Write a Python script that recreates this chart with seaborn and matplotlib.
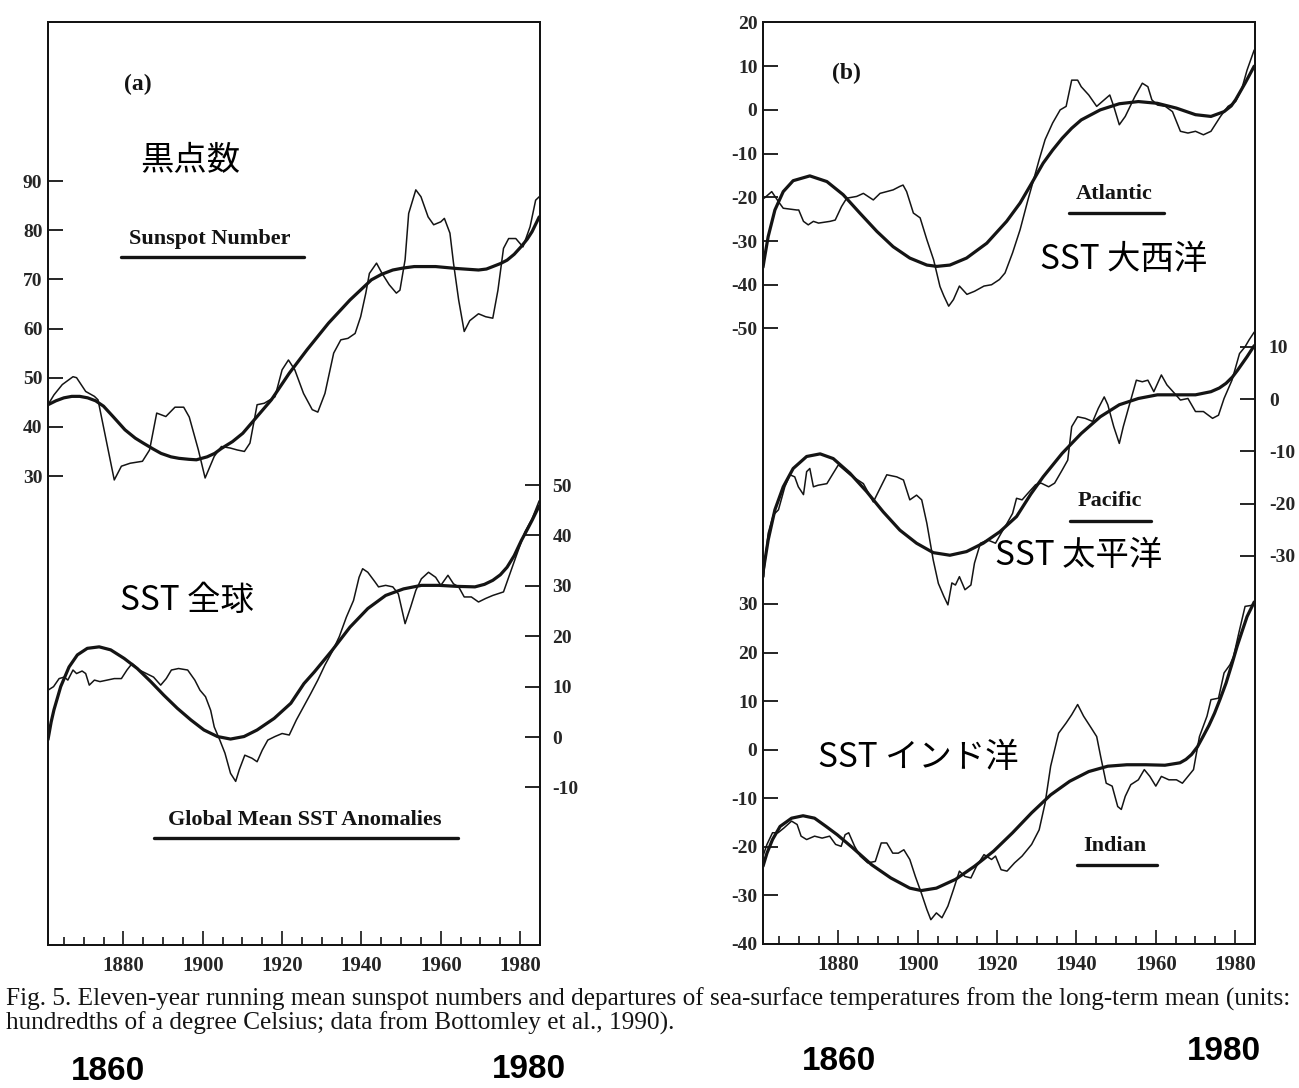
import numpy as np
import pandas as pd
import matplotlib
matplotlib.use("Agg")
import matplotlib.pyplot as plt
from matplotlib.lines import Line2D
from matplotlib.ticker import FixedLocator, MultipleLocator
import seaborn as sns

# ---------------- data ----------------
sun_raw_year = [1861.0, 1862.5, 1864.6, 1867.3, 1868.2, 1870.5, 1872.7, 1873.6, 1877.7, 1879.5,
                1881.7, 1884.8, 1886.6, 1888.4, 1890.7, 1893.0, 1895.2, 1896.6, 1898.9, 1900.6,
                1902.9, 1904.7, 1906.9, 1908.7, 1910.5, 1911.9, 1913.7, 1915.5, 1918.2, 1920.0,
                1921.6, 1923.2, 1925.4, 1927.6, 1929.0, 1930.8, 1933.0, 1934.8, 1936.6, 1938.4,
                1939.8, 1941.1, 1942.0, 1943.8, 1945.2, 1947.0, 1948.8, 1949.7, 1951.0, 1951.9,
                1953.7, 1955.0, 1956.8, 1958.2, 1960.0, 1960.9, 1962.3, 1963.2, 1964.5, 1965.9,
                1967.3, 1969.5, 1971.3, 1973.1, 1974.4, 1975.8, 1977.1, 1978.9, 1980.7, 1982.5,
                1983.9, 1984.8]
sun_raw_val = [44.5, 46.5, 48.6, 50.2, 50.0, 47.2, 46.2, 45.5, 29.2, 32.0,
               32.6, 33.0, 35.3, 42.8, 42.1, 44.0, 44.0, 42.0, 35.3, 29.6,
               34.0, 36.0, 35.7, 35.3, 35.0, 36.7, 44.5, 44.8, 46.1, 51.6,
               53.6, 51.6, 46.8, 43.5, 43.0, 46.8, 55.0, 57.7, 58.0, 59.0,
               62.4, 67.2, 71.2, 73.3, 71.2, 68.9, 67.2, 67.8, 74.0, 83.4,
               88.2, 86.8, 82.7, 81.1, 81.7, 82.4, 79.4, 73.3, 65.8, 59.4,
               61.6, 63.0, 62.4, 62.1, 67.8, 76.3, 78.3, 78.3, 76.6, 80.7,
               86.1, 86.8]
sun_fit_year = [1861.0, 1863.0, 1865.0, 1867.0, 1869.0, 1871.0, 1873.0, 1875.0, 1877.5, 1880.4,
                1883.0, 1885.0, 1887.5, 1889.5, 1892.0, 1894.0, 1896.5, 1898.4, 1901.1, 1903.0,
                1904.7, 1907.5, 1910.1, 1913.7, 1917.3, 1921.8, 1926.3, 1931.7, 1937.1, 1940.0,
                1942.5, 1945.0, 1947.9, 1950.5, 1953.3, 1958.7, 1964.1, 1969.5, 1971.5, 1973.1,
                1975.0, 1976.7, 1978.5, 1980.3, 1981.8, 1983.0, 1984.8]
sun_fit_val = [44.5, 45.3, 45.9, 46.2, 46.2, 45.9, 45.3, 44.2, 42.0, 39.4,
               37.7, 36.7, 35.5, 34.6, 33.9, 33.6, 33.4, 33.3, 33.9, 34.6,
               35.6, 37.0, 38.7, 42.1, 45.5, 50.9, 55.7, 61.1, 65.8, 68.0,
               69.9, 71.0, 71.9, 72.3, 72.6, 72.6, 72.2, 71.9, 72.1, 72.6,
               73.2, 73.9, 75.1, 76.7, 78.2, 79.7, 82.7]

glob_raw_year = [1861.0, 1862.4, 1863.8, 1865.1, 1866.0, 1867.3, 1868.2, 1869.6, 1870.5, 1871.4,
                 1872.7, 1874.1, 1875.9, 1877.7, 1879.5, 1880.9, 1882.2, 1884.0, 1885.8, 1887.6,
                 1889.4, 1890.8, 1892.1, 1893.9, 1896.2, 1898.0, 1899.3, 1900.7, 1902.0, 1902.9,
                 1904.3, 1905.6, 1907.0, 1908.3, 1909.2, 1910.6, 1912.4, 1913.7, 1915.0, 1916.4,
                 1918.2, 1920.0, 1921.8, 1923.6, 1925.4, 1927.2, 1929.0, 1930.8, 1932.6, 1934.4,
                 1936.2, 1938.0, 1939.4, 1940.3, 1941.6, 1943.4, 1944.3, 1946.1, 1947.9, 1949.3,
                 1951.0, 1952.4, 1953.7, 1955.1, 1956.9, 1958.7, 1960.0, 1961.8, 1963.2, 1964.5,
                 1965.9, 1967.7, 1969.5, 1971.3, 1973.1, 1975.8, 1977.1, 1978.9, 1981.2, 1983.0,
                 1984.8]
glob_raw_val = [9.3, 10.0, 11.6, 11.9, 11.3, 13.3, 12.6, 13.1, 12.6, 10.3,
                11.3, 11.0, 11.3, 11.6, 11.6, 13.3, 14.6, 13.3, 12.6, 11.9,
                10.3, 11.6, 13.3, 13.6, 13.3, 11.3, 9.3, 8.0, 5.3, 2.0,
                -0.6, -3.2, -7.2, -8.8, -6.5, -3.6, -4.2, -4.9, -2.6, -0.6,
                0.1, 0.7, 0.4, 3.4, 6.0, 8.6, 11.3, 14.3, 16.9, 19.9,
                23.8, 27.1, 31.7, 33.4, 32.7, 30.8, 29.8, 30.1, 29.8, 28.4,
                22.5, 25.8, 29.1, 31.4, 32.7, 31.7, 30.1, 32.1, 30.4, 29.8,
                27.8, 27.8, 26.8, 27.5, 28.1, 28.8, 31.7, 35.7, 40.7, 43.3,
                46.9]
glob_fit_year = [1861.0, 1861.8, 1862.5, 1864.2, 1866.3, 1868.4, 1870.9, 1873.9, 1876.8, 1880.2,
                 1883.5, 1886.9, 1890.2, 1893.6, 1897.0, 1900.3, 1903.7, 1907.0, 1910.4, 1913.7,
                 1918.0, 1922.2, 1925.5, 1928.1, 1932.6, 1937.1, 1941.6, 1946.1, 1950.6, 1955.1,
                 1959.6, 1964.1, 1968.6, 1971.0, 1973.1, 1975.0, 1976.7, 1978.5, 1980.3, 1981.8,
                 1983.0, 1984.8]
glob_fit_val = [-0.5, 3.0, 5.4, 10.0, 13.9, 16.3, 17.6, 17.9, 17.3, 15.6,
                13.6, 11.0, 8.3, 5.7, 3.4, 1.4, 0.1, -0.4, 0.1, 1.4,
                3.7, 6.7, 10.6, 12.9, 17.2, 21.8, 25.5, 28.1, 29.4, 30.1,
                30.1, 29.9, 29.8, 30.3, 31.1, 32.2, 33.7, 36.0, 39.0, 41.2,
                43.0, 45.9]

atl_raw_year = [1861.3, 1863.2, 1864.9, 1866.1, 1869.5, 1870.0, 1871.2, 1872.4, 1873.7, 1875.0,
                1877.9, 1879.2, 1880.8, 1882.1, 1884.6, 1886.3, 1888.8, 1890.5, 1893.8, 1895.5,
                1896.3, 1897.2, 1898.9, 1900.6, 1902.3, 1904.0, 1905.6, 1906.6, 1907.8, 1909.0,
                1910.5, 1912.4, 1914.3, 1916.7, 1918.6, 1920.6, 1922.0, 1923.9, 1925.8, 1927.8,
                1929.2, 1930.6, 1932.1, 1934.0, 1935.9, 1937.4, 1938.8, 1940.3, 1941.2, 1943.1,
                1945.1, 1947.0, 1948.4, 1949.4, 1950.8, 1952.3, 1954.7, 1956.6, 1958.0, 1959.0,
                1960.4, 1962.4, 1964.2, 1966.2, 1968.1, 1970.0, 1972.0, 1973.9, 1976.3, 1978.2,
                1980.1, 1981.6, 1983.0, 1984.8]
atl_raw_val = [-20.2, -18.7, -21.0, -22.5, -22.9, -22.9, -25.5, -26.3, -25.5, -25.9,
               -25.5, -25.2, -22.1, -20.2, -19.8, -19.1, -20.6, -19.1, -18.3, -17.5,
               -17.2, -18.7, -23.6, -24.7, -29.7, -34.3, -40.4, -42.6, -44.9, -43.4,
               -40.3, -42.2, -41.5, -40.3, -40.0, -38.8, -37.3, -32.7, -27.4, -20.5,
               -16.0, -11.4, -6.8, -3.0, 0.0, 0.8, 6.8, 6.8, 5.3, 3.4,
               0.8, 2.3, 3.4, 0.8, -3.4, -1.5, 3.0, 6.1, 5.3, 2.3,
               1.1, 0.8, -0.4, -4.9, -5.3, -4.9, -5.7, -4.9, -1.5, 0.8,
               1.9, 4.6, 9.1, 13.7]
atl_fit_year = [1861.0, 1861.3, 1862.3, 1864.0, 1866.1, 1868.6, 1872.8, 1877.1, 1881.2, 1885.4,
                1889.7, 1893.8, 1898.0, 1902.3, 1904.8, 1908.1, 1912.3, 1917.4, 1922.4, 1925.8,
                1928.7, 1931.6, 1934.0, 1936.4, 1938.8, 1941.2, 1946.0, 1950.8, 1955.6, 1960.4,
                1965.2, 1970.0, 1973.9, 1977.2, 1979.0, 1980.1, 1982.5, 1984.8]
atl_fit_val = [-36.0, -34.3, -29.0, -22.9, -18.7, -16.2, -15.1, -16.4, -19.4, -23.6,
               -27.8, -31.3, -33.9, -35.5, -35.8, -35.5, -33.9, -30.5, -25.5, -21.3,
               -16.8, -12.2, -9.2, -6.5, -4.2, -2.3, 0.0, 1.4, 1.9, 1.5,
               0.4, -1.1, -1.5, -0.4, 0.9, 2.3, 6.1, 10.0]

pac_raw_year = [1861.1, 1862.3, 1863.6, 1864.9, 1866.5, 1867.8, 1869.0, 1869.9, 1871.2, 1872.0,
                1872.8, 1873.7, 1874.9, 1877.1, 1878.7, 1880.0, 1882.9, 1886.3, 1888.8, 1890.1,
                1892.2, 1894.7, 1896.4, 1898.0, 1899.7, 1901.0, 1902.3, 1903.9, 1905.2, 1906.6,
                1907.6, 1908.6, 1909.5, 1910.5, 1911.9, 1913.4, 1914.3, 1915.8, 1917.7, 1919.6,
                1921.0, 1922.5, 1923.9, 1924.9, 1926.3, 1927.8, 1929.7, 1931.1, 1933.0, 1934.5,
                1936.4, 1937.8, 1938.8, 1940.3, 1942.2, 1944.1, 1945.5, 1947.0, 1947.9, 1949.4,
                1950.8, 1951.8, 1953.2, 1955.1, 1956.6, 1958.0, 1959.5, 1961.4, 1962.8, 1964.7,
                1966.2, 1968.1, 1970.0, 1972.0, 1974.3, 1975.8, 1977.2, 1979.2, 1981.1, 1982.5,
                1983.5, 1984.8]
pac_raw_val = [-34.0, -25.7, -22.2, -21.2, -16.8, -14.5, -14.9, -16.8, -18.3, -13.9,
               -13.3, -16.8, -16.5, -16.2, -14.2, -12.6, -14.5, -16.2, -19.7, -17.7,
               -14.5, -14.9, -15.5, -19.3, -18.4, -19.3, -23.8, -30.8, -35.3, -37.8,
               -39.4, -35.2, -35.6, -34.0, -36.5, -35.6, -31.4, -27.6, -27.0, -27.6,
               -25.7, -23.8, -21.9, -19.0, -19.3, -18.0, -16.4, -16.1, -16.8, -16.1,
               -13.6, -11.7, -5.3, -3.4, -3.7, -4.3, -1.8, 0.4, -1.1, -5.3,
               -8.5, -5.3, -1.5, 3.6, 3.3, 3.6, 1.4, 4.6, 2.7, 1.1,
               -0.2, 0.1, -2.4, -2.4, -3.7, -3.1, 0.1, 3.6, 8.7, 10.0,
               11.3, 12.8]
pac_fit_year = [1861.0, 1861.1, 1862.3, 1864.0, 1866.1, 1868.6, 1872.0, 1875.4, 1878.7, 1882.9,
                1887.1, 1891.3, 1895.5, 1899.7, 1903.9, 1908.1, 1912.3, 1916.5, 1920.7, 1924.9,
                1928.5, 1931.6, 1936.4, 1941.2, 1946.0, 1950.8, 1955.6, 1960.4, 1965.2, 1970.0,
                1973.9, 1976.0, 1977.7, 1979.3, 1980.6, 1983.0, 1984.8]
pac_fit_val = [-34.0, -32.7, -27.0, -21.2, -16.8, -13.3, -11.0, -10.5, -11.4, -14.2,
               -17.7, -21.6, -25.1, -27.6, -29.4, -29.9, -29.2, -27.6, -25.4, -22.5,
               -18.2, -14.9, -10.4, -6.6, -3.4, -1.1, 0.1, 0.8, 0.8, 0.8,
               1.4, 2.1, 3.0, 4.2, 5.5, 8.1, 10.2]

ind_raw_year = [1861.0, 1862.0, 1863.4, 1864.8, 1866.3, 1868.2, 1869.6, 1870.6, 1872.0, 1874.0,
                1875.9, 1877.8, 1879.3, 1880.7, 1881.7, 1882.6, 1884.1, 1885.5, 1887.4, 1889.3,
                1890.8, 1892.2, 1893.7, 1895.1, 1896.5, 1898.0, 1899.4, 1900.9, 1902.3, 1903.3,
                1904.7, 1906.1, 1907.6, 1909.0, 1910.5, 1911.9, 1913.4, 1914.8, 1916.7, 1918.6,
                1919.6, 1921.0, 1922.5, 1924.4, 1926.3, 1928.7, 1930.6, 1932.1, 1933.5, 1935.5,
                1937.4, 1938.8, 1940.3, 1941.8, 1943.7, 1945.1, 1946.1, 1947.5, 1949.0, 1950.4,
                1951.3, 1952.3, 1953.7, 1955.6, 1957.1, 1958.5, 1960.0, 1961.4, 1963.3, 1965.2,
                1966.7, 1968.1, 1969.5, 1971.0, 1972.9, 1973.9, 1975.8, 1977.2, 1978.7, 1979.6,
                1981.0, 1982.5, 1984.8]
ind_raw_val = [-21.9, -19.5, -17.1, -17.1, -16.1, -14.7, -15.4, -17.8, -18.5, -17.8,
               -18.2, -17.8, -19.5, -19.9, -17.5, -17.1, -19.9, -21.9, -23.3, -23.0,
               -19.2, -19.2, -21.3, -21.3, -20.6, -22.6, -26.1, -29.5, -32.9, -35.0,
               -33.6, -34.6, -32.2, -28.8, -25.0, -26.1, -26.4, -24.0, -21.6, -22.6,
               -21.9, -24.7, -25.0, -23.3, -21.9, -19.5, -16.5, -11.0, -3.4, 3.4,
               5.5, 7.2, 9.3, 6.9, 4.5, 2.7, -1.4, -6.9, -7.5, -11.7,
               -12.3, -9.6, -7.2, -6.2, -4.1, -5.5, -7.5, -5.5, -6.2, -6.2,
               -6.9, -5.5, -4.1, 2.7, 6.9, 10.3, 10.6, 15.8, 17.5, 19.2,
               24.3, 29.5, 29.8]
ind_fit_year = [1861.0, 1862.0, 1863.4, 1865.3, 1868.2, 1871.1, 1874.0, 1876.9, 1879.7, 1883.6,
                1888.4, 1893.2, 1898.0, 1900.9, 1904.7, 1909.5, 1914.3, 1919.1, 1923.9, 1928.7,
                1933.5, 1938.3, 1943.1, 1947.9, 1952.7, 1957.5, 1962.3, 1966.1, 1967.6, 1969.0,
                1970.5, 1971.9, 1973.4, 1974.8, 1976.2, 1977.7, 1979.1, 1980.5, 1981.8, 1983.0,
                1984.8]
ind_fit_val = [-24.0, -21.3, -18.5, -15.8, -14.1, -13.6, -14.1, -15.8, -17.5, -20.2,
               -23.7, -26.4, -28.5, -29.0, -28.5, -26.7, -24.0, -20.9, -17.1, -13.0,
               -9.3, -6.5, -4.5, -3.4, -3.1, -3.1, -3.2, -2.7, -2.0, -1.0,
               0.6, 2.7, 5.0, 7.5, 10.4, 13.7, 17.4, 21.3, 24.5, 27.4,
               30.4]

x_major = [1880, 1900, 1920, 1940, 1960, 1980]
sun_ticks = [30, 40, 50, 60, 70, 80, 90]
glob_ticks = [-10, 0, 10, 20, 30, 40, 50]
atl_ticks = [-50, -40, -30, -20, -10, 0, 10, 20]
pac_ticks = [-30, -20, -10, 0, 10]
ind_ticks = [-40, -30, -20, -10, 0, 10, 20, 30]

caption1 = ("Fig. 5. Eleven-year running mean sunspot numbers and departures of sea-surface "
            "temperatures from the long-term mean (units:")
caption2 = "hundredths of a degree Celsius; data from Bottomley et al., 1990)."

# ---------------- style ----------------
sns.set_style("ticks")
plt.rcParams["axes.unicode_minus"] = False
plt.rcParams["font.family"] = ["Liberation Serif", "DejaVu Serif"]

W, H = 1299, 1088
fig = plt.figure(figsize=(W / 100, H / 100), dpi=100)
fig.patch.set_facecolor("white")

INK = "#141414"
RAW_LW = 1.1
FIT_LW = 2.3
TICKFONT = dict(family="Liberation Serif", weight="bold", size=14)


def box(l, t, r, b):
    return [l / W, 1 - b / H, (r - l) / W, (b - t) / H]


def fxy(x, y):
    return x / W, 1 - y / H


def draw(ax, yrs, vals, lw):
    df = pd.DataFrame({"year": yrs, "val": vals})
    sns.lineplot(data=df, x="year", y="val", ax=ax, color=INK, linewidth=lw,
                 estimator=None, sort=False, legend=False)
    for ln in ax.lines:
        ln.set_solid_joinstyle("round")
        ln.set_solid_capstyle("round")
    ax.set_xlabel("")
    ax.set_ylabel("")


def style_xaxis(ax):
    ax.set_xlim(1861, 1985)
    ax.xaxis.set_major_locator(FixedLocator(x_major))
    ax.xaxis.set_minor_locator(MultipleLocator(5))
    ax.tick_params(axis="x", which="major", direction="in", length=10, width=1.2,
                   pad=8, color=INK)
    ax.tick_params(axis="x", which="minor", direction="in", length=6, width=1.2, color=INK)
    ax.set_xticks(x_major)
    ax.set_xticklabels([str(v) for v in x_major], **TICKFONT)
    ax.tick_params(axis="x", labelsize=15)


def style_spines(ax):
    for s in ax.spines.values():
        s.set_visible(True)
        s.set_color(INK)
        s.set_linewidth(1.4)


# ---------------- panel (a) ----------------
ax_s = fig.add_axes(box(48, 22, 540, 945))
ax_s.set_facecolor("white")
draw(ax_s, sun_raw_year, sun_raw_val, RAW_LW)
draw(ax_s, sun_fit_year, sun_fit_val, FIT_LW)
ax_s.set_ylim(-65.38, 122.34)
style_xaxis(ax_s)
style_spines(ax_s)
ax_s.set_yticks(sun_ticks)
ax_s.set_yticklabels([str(v) for v in sun_ticks], **TICKFONT)
ax_s.tick_params(axis="y", direction="in", length=11, width=1.3, pad=4, color=INK)

ax_g = ax_s.twinx()
draw(ax_g, glob_raw_year, glob_raw_val, RAW_LW)
draw(ax_g, glob_fit_year, glob_fit_val, FIT_LW)
ax_g.set_ylim(-41.27, 141.9)
ax_g.set_xlim(1861, 1985)
style_spines(ax_g)
ax_g.set_yticks(glob_ticks)
ax_g.set_yticklabels([str(v) for v in glob_ticks], **TICKFONT)
ax_g.tick_params(axis="y", direction="in", length=11, width=1.3, pad=9, color=INK)

# ---------------- panel (b) ----------------
ax_a = fig.add_axes(box(763, 22, 1255, 944))
ax_a.set_facecolor("white")
draw(ax_a, atl_raw_year, atl_raw_val, RAW_LW)
draw(ax_a, atl_fit_year, atl_fit_val, FIT_LW)
ax_a.set_ylim(-190.8, 20.1)
style_xaxis(ax_a)
style_spines(ax_a)
ax_a.set_yticks(atl_ticks)
ax_a.set_yticklabels([str(v) for v in atl_ticks], **TICKFONT)
ax_a.tick_params(axis="y", direction="in", length=11, width=1.3, pad=4, color=INK)

ax_p = ax_a.twinx()
draw(ax_p, pac_raw_year, pac_raw_val, RAW_LW)
draw(ax_p, pac_fit_year, pac_fit_val, FIT_LW)
ax_p.set_ylim(-104.3, 72.15)
ax_p.set_xlim(1861, 1985)
style_spines(ax_p)
ax_p.set_yticks(pac_ticks)
ax_p.set_yticklabels([str(v) for v in pac_ticks], **TICKFONT)
ax_p.tick_params(axis="y", direction="in", length=11, width=1.3, pad=10, color=INK)

ax_i = fig.add_axes(box(763, 22, 1255, 944))
ax_i.patch.set_visible(False)
draw(ax_i, ind_raw_year, ind_raw_val, RAW_LW)
draw(ax_i, ind_fit_year, ind_fit_val, FIT_LW)
ax_i.set_xlim(1861, 1985)
ax_i.set_ylim(-40, 149.8)
for s in ax_i.spines.values():
    s.set_visible(False)
ax_i.set_xticks([])
ax_i.set_yticks(ind_ticks)
ax_i.set_yticklabels([str(v) for v in ind_ticks], **TICKFONT)
ax_i.tick_params(axis="y", direction="in", length=11, width=1.3, pad=4, color=INK)

# ---------------- annotations ----------------
def label(x, y, s, size=16, **kw):
    fig.text(*fxy(x, y), s, ha="center", va="center", family="Liberation Serif",
             weight="bold", size=size, color=INK, **kw)


def underline(x0, x1, y):
    fig.add_artist(Line2D([x0 / W, x1 / W], [1 - y / H, 1 - y / H], color=INK,
                          linewidth=2.4, transform=fig.transFigure))


label(138, 84, "(a)", size=17)
label(846, 73, "(b)", size=17)
label(210, 239, "Sunspot Number", size=16)
underline(121, 304, 257)
label(305, 820, "Global Mean SST Anomalies", size=16)
underline(154, 458, 838)
label(1114, 194, "Atlantic", size=16)
underline(1069, 1164, 213)
label(1110, 501, "Pacific", size=16)
underline(1070, 1151, 521)
label(1115, 846, "Indian", size=16)
underline(1077, 1157, 865)

CJK = ["Noto Sans CJK JP", "DejaVu Sans"]
for (x, y, s) in [(190, 161, "黒点数"), (187, 600, "SST 全球"), (1124, 259, "SST 大西洋"),
                  (1079, 556, "SST 太平洋"), (918, 757, "SST インド洋")]:
    fig.text(*fxy(x, y), s, ha="center", va="center", family=CJK, size=24, color="black")

# caption
cap_kw = dict(ha="left", va="center", family="Liberation Serif", color=INK)
t1 = fig.text(*fxy(6, 999), caption1, size=16, **cap_kw)
fig.canvas.draw()
r = fig.canvas.get_renderer()
wpx = t1.get_window_extent(r).width
cap_size = 16 * 1288 / wpx
t1.set_fontsize(cap_size)
fig.text(*fxy(6, 1023), caption2, size=cap_size, **cap_kw)

BIG = dict(ha="center", va="center", family=["Liberation Sans Narrow", "Liberation Sans"],
           weight="bold", size=24, color="black")
fig.text(*fxy(108, 1072), "1860", **BIG)
fig.text(*fxy(529, 1070), "1980", **BIG)
fig.text(*fxy(839, 1062), "1860", **BIG)
fig.text(*fxy(1224, 1052), "1980", **BIG)

fig.savefig("out.png", dpi=100, facecolor="white")
